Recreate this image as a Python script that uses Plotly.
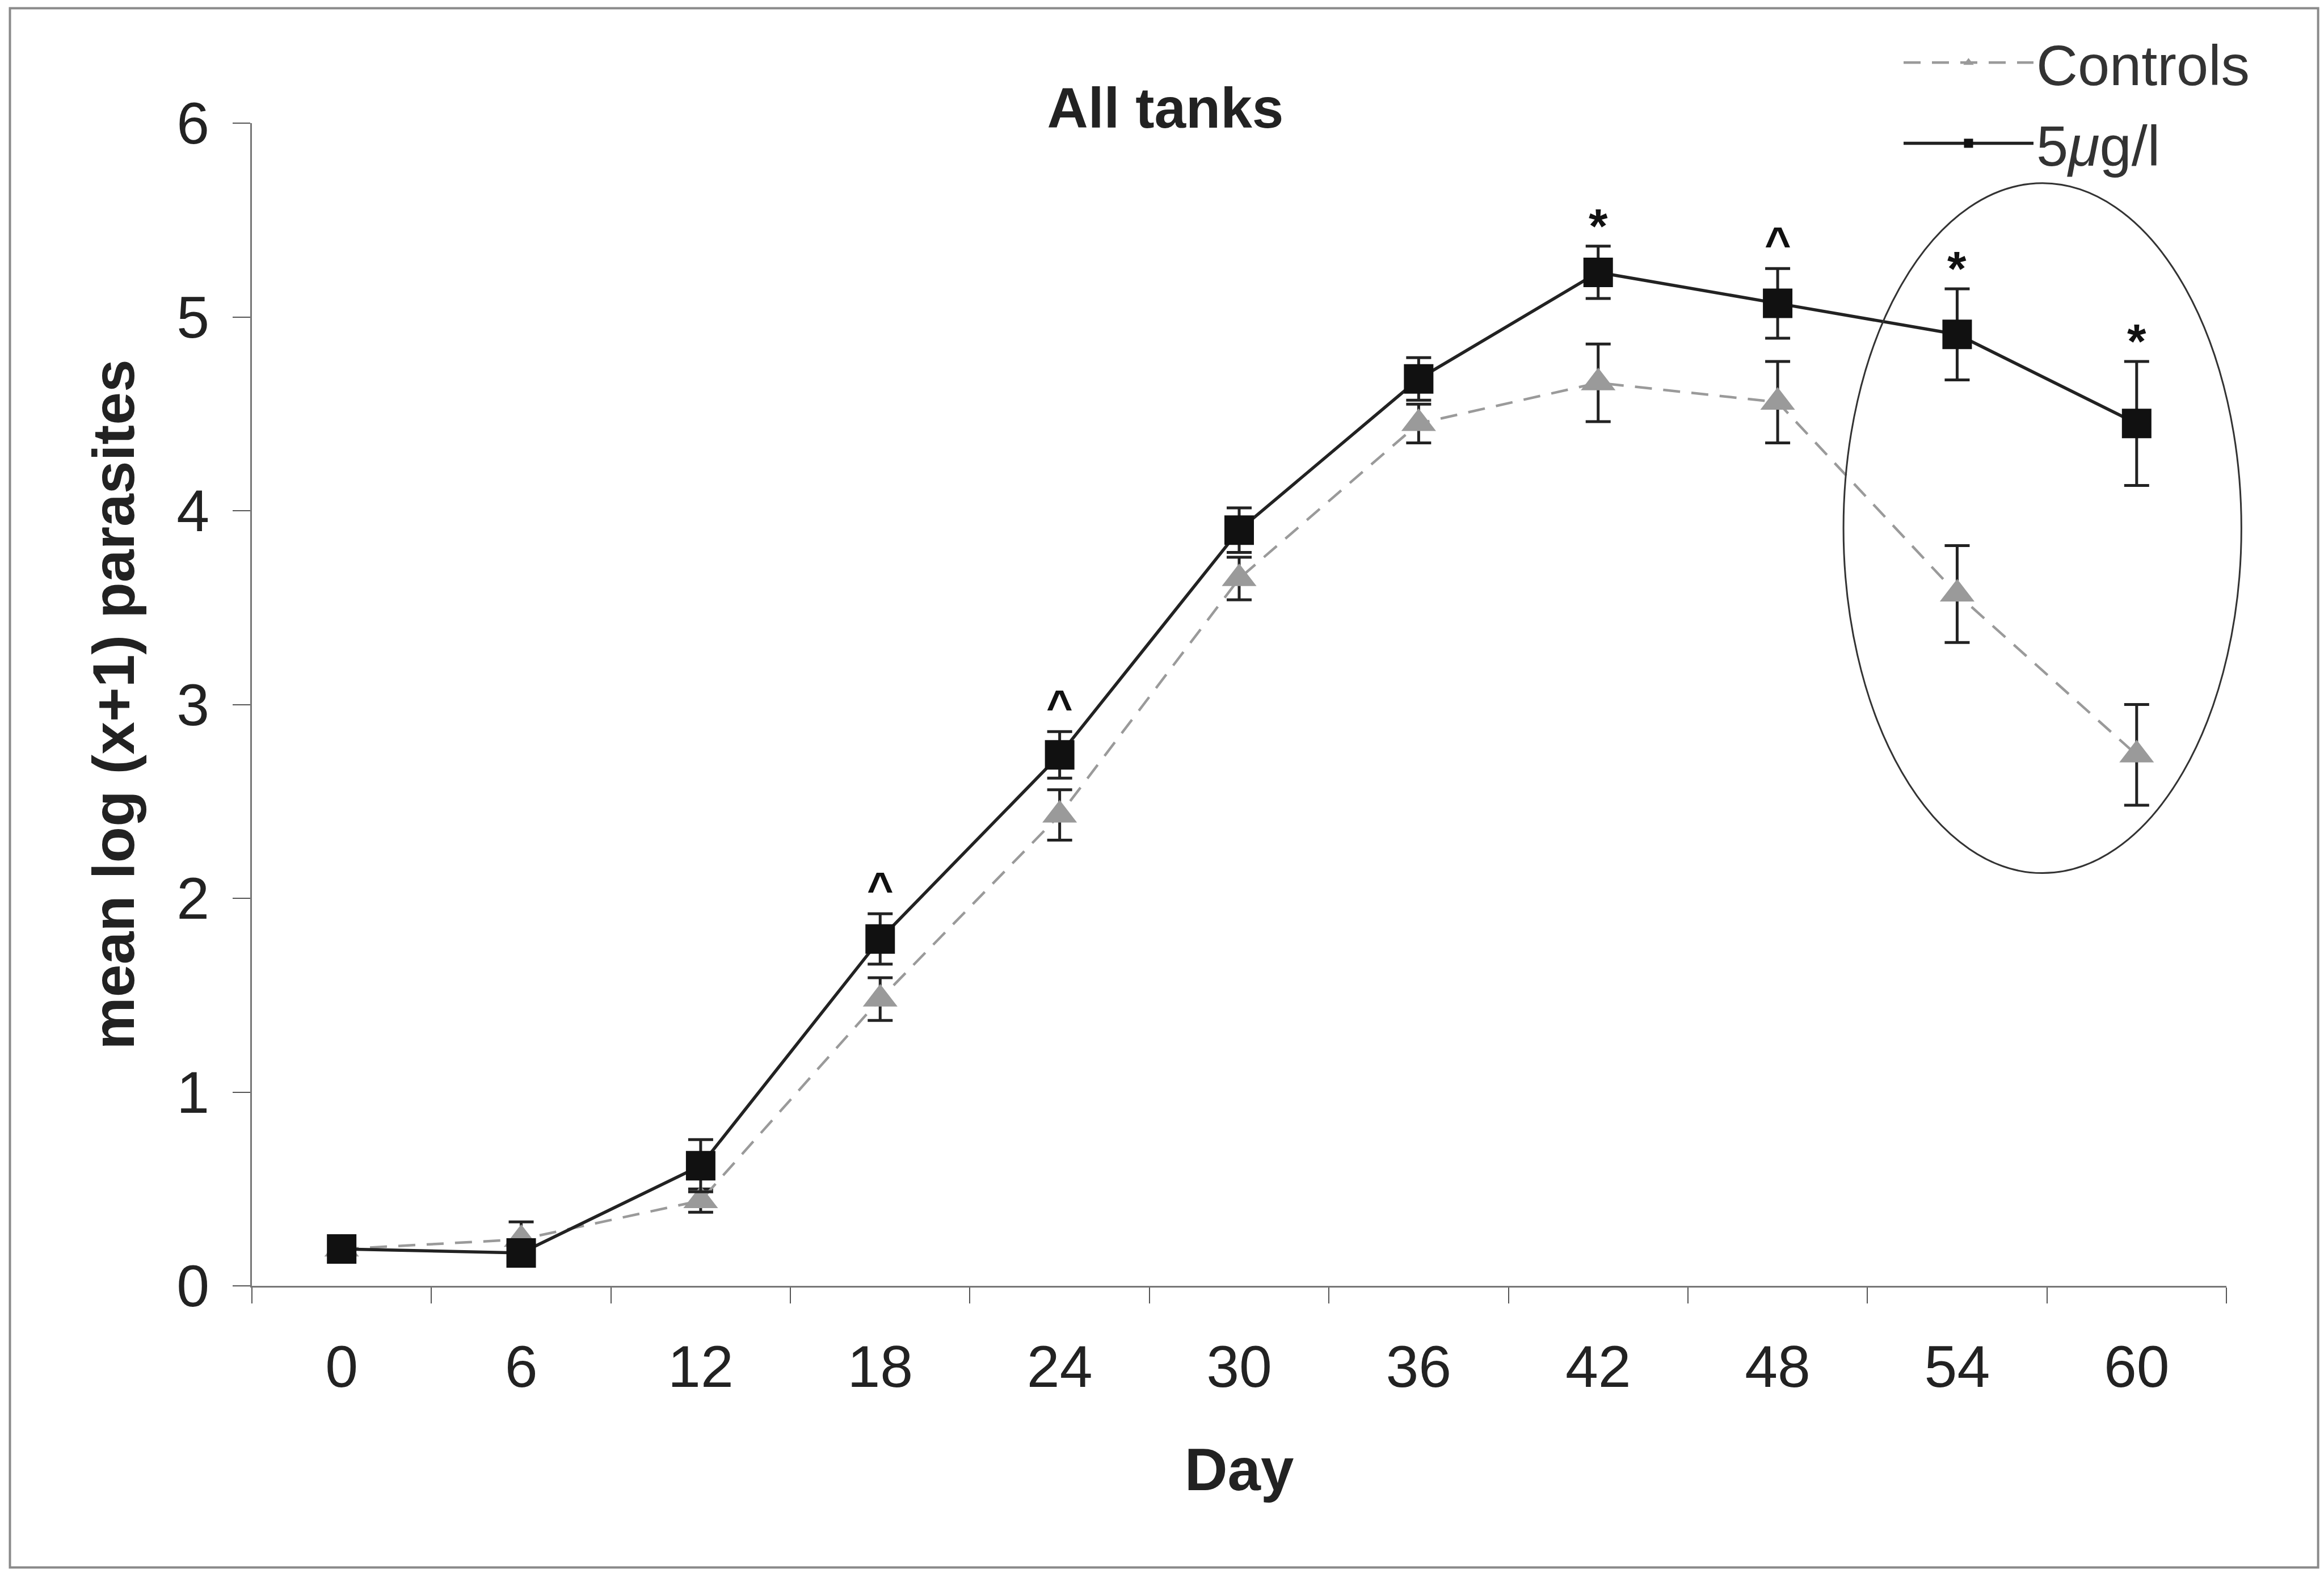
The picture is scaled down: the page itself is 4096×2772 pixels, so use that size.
import plotly.graph_objects as go

# ---------------- data ----------------
DAYS = [0, 6, 12, 18, 24, 30, 36, 42, 48, 54, 60]
DAY_LABELS = [str(d) for d in DAYS]

CONTROLS_MEAN = [0.19, 0.24, 0.44, 1.48, 2.43, 3.65, 4.45, 4.66, 4.56, 3.57, 2.74]
CONTROLS_SE = [0.03, 0.09, 0.06, 0.11, 0.13, 0.11, 0.10, 0.20, 0.21, 0.25, 0.26]

TREATED_MEAN = [0.19, 0.17, 0.62, 1.79, 2.74, 3.90, 4.68, 5.23, 5.07, 4.91, 4.45]
TREATED_SE = [0.04, 0.05, 0.135, 0.13, 0.12, 0.115, 0.11, 0.135, 0.18, 0.235, 0.32]

SIG_DAYS = [18, 24, 42, 48, 54, 60]
SIG_SYMBOLS = ["^", "^", "*", "^", "*", "*"]

# highlighted region (days, values)
ELLIPSE_DAYS = (50.2, 63.5)
ELLIPSE_VALUES = (2.13, 5.69)

Y_TICKS = [0, 1, 2, 3, 4, 5, 6]

# ---------------- layout constants ----------------
W, H = 4096, 2772
L, R, T, B = 444, 172, 217, 506
PW, PH = W - L - R, H - T - B
FONT = "Liberation Sans, Arial, Helvetica, sans-serif"
S = 0.973

def px_x(p):
    return (p - L) / PW

def px_y(p):
    return (H - B - p) / PH

fig = go.Figure()

fig.add_trace(go.Scatter(
    x=DAY_LABELS, y=CONTROLS_MEAN, name="Controls", mode="lines+markers",
    legendgroup="c",
    line=dict(color="#9a9a9a", width=4.5, dash="30px,20px"),
    marker=dict(symbol="triangle-up", size=53, color="#9a9a9a", line=dict(width=0)),
    error_y=dict(type="data", array=CONTROLS_SE, visible=True, color="#222222",
                 thickness=5, width=22),
))
fig.add_trace(go.Scatter(
    x=DAY_LABELS, y=TREATED_MEAN, name="5<i>μ</i>g/l", mode="lines+markers",
    legendgroup="t",
    line=dict(color="#222222", width=5.5),
    marker=dict(symbol="square", size=52, color="#111111", line=dict(width=0)),
    error_y=dict(type="data", array=TREATED_SE, visible=True, color="#222222",
                 thickness=5, width=22),
))

# significance marks (x given as category index)
annotations = []
for d, sym in zip(SIG_DAYS, SIG_SYMBOLS):
    i = DAYS.index(d)
    annotations.append(dict(
        x=i, y=TREATED_MEAN[i] + TREATED_SE[i], xref="x", yref="y",
        text="<b>%s</b>" % sym, showarrow=False, yanchor="middle",
        yshift=36 if sym == "*" else 45,
        font=dict(family=FONT, size=86 if sym == "*" else 80, color="#111111"),
    ))

# ellipse in domain coordinates derived from day/value bounds
n = len(DAYS)
def day_to_dom(d):
    return (d / 6 + 0.5) / n
ex0, ex1 = day_to_dom(ELLIPSE_DAYS[0]), day_to_dom(ELLIPSE_DAYS[1])
ey0, ey1 = ELLIPSE_VALUES[0] / Y_TICKS[-1], ELLIPSE_VALUES[1] / Y_TICKS[-1]

shapes = [
    dict(type="circle", xref="x domain", yref="y domain", x0=ex0, x1=ex1, y0=ey0, y1=ey1,
         line=dict(color="#333333", width=3)),
    dict(type="rect", xref="paper", yref="paper",
         x0=px_x(18 * S), x1=px_x(4199 * S), y0=px_y(2839 * S), y1=px_y(15 * S),
         line=dict(color="#8a8a8a", width=4), layer="below"),
]

fig.update_layout(
    width=W, height=H,
    margin=dict(l=L, r=R, t=T, b=B, pad=0, autoexpand=False),
    paper_bgcolor="white", plot_bgcolor="white",
    font=dict(family=FONT, size=104, color="#222222"),
    title=dict(text="<b>All tanks</b>", x=2111 * S / W, xref="container", xanchor="center",
               y=1 - 195 * S / H, yref="container", yanchor="middle",
               font=dict(family=FONT, size=100, color="#222222")),
    showlegend=True,
    legend=dict(xref="container", yref="container", x=3350 / W, xanchor="left",
                y=1 - 38 / H, yanchor="top", font=dict(family=FONT, size=101, color="#333333"),
                bgcolor="rgba(0,0,0,0)", borderwidth=0, itemwidth=229,
                tracegroupgap=8),
    annotations=annotations,
    shapes=shapes,
)

fig.update_xaxes(
    type="category", range=[-0.5, n - 0.5], tickson="boundaries",
    ticks="outside", ticklen=28, tickwidth=2, tickcolor="#555555",
    showline=True, linecolor="#777777", linewidth=3, showgrid=False, zeroline=False,
    tickfont=dict(family=FONT, size=104, color="#222222"), ticklabelstandoff=50,
    title=dict(text="<b>Day</b>", font=dict(family=FONT, size=105, color="#222222"), standoff=88),
)
fig.update_yaxes(
    range=[0, 6], tickvals=Y_TICKS, ticks="outside", ticklen=31, tickwidth=2,
    tickcolor="#555555", showline=True, linecolor="#777777", linewidth=3,
    showgrid=False, zeroline=False,
    tickfont=dict(family=FONT, size=104, color="#222222"), ticklabelstandoff=20,
    title=dict(text="<b>mean log (x+1) parasites</b>",
               font=dict(family=FONT, size=104, color="#222222"), standoff=40),
)

fig.write_html("out.html")
